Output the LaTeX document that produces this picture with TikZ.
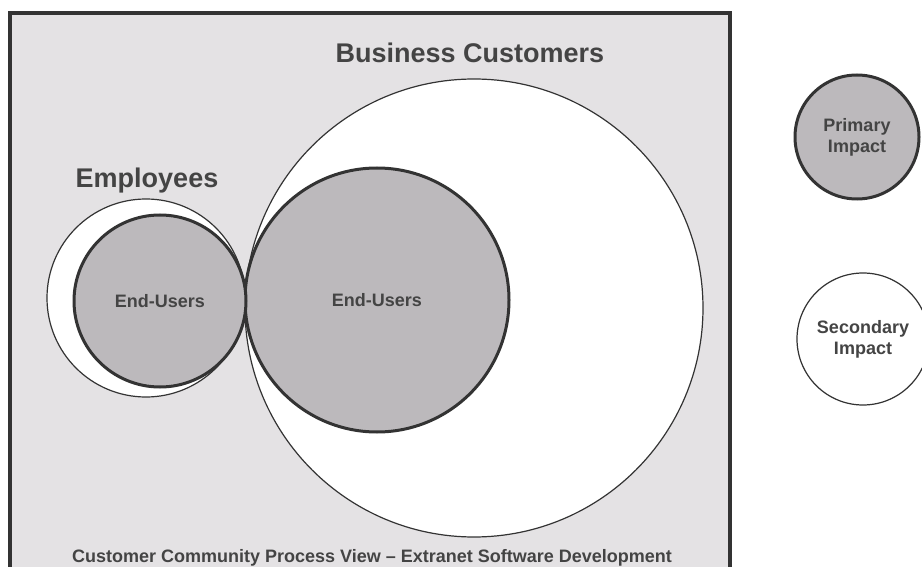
\documentclass[tikz,border=0pt]{standalone}
\usepackage{fontspec}
\setmainfont{Liberation Sans}
\definecolor{framefill}{HTML}{E4E2E4}
\definecolor{grayfill}{HTML}{BCB9BC}
\definecolor{inkline}{HTML}{333333}
\definecolor{inktext}{HTML}{444444}
\begin{document}
\begin{tikzpicture}[x=1pt,y=-1pt,
  thinring/.style={circle,draw=inkline,line width=1.2pt,fill=white,inner sep=0pt},
  thickring/.style={circle,draw=inkline,line width=3pt,fill=grayfill,inner sep=0pt},
  heading/.style={font=\fontsize{27}{30}\selectfont\bfseries,text=inktext,inner sep=0pt},
  smalltext/.style={font=\fontsize{18}{21}\selectfont\bfseries,text=inktext,align=center,inner sep=0pt}]
\useasboundingbox (0,0) rectangle (922,567);
\clip (0,0) rectangle (922,567);
\fill[white] (0,0) rectangle (922,567);
% frame
\draw[draw=inkline,line width=3.5pt,fill=framefill] (10,13) rectangle (730,600);
% business customers
\node[thinring,minimum size=458pt] (bc) at (474,308) {};
\node[thickring,minimum size=264pt,smalltext] (eu2) at (377,300) {End-Users};
% employees
\node[thinring,minimum size=198pt] (emp) at (146,298) {};
\node[thickring,minimum size=172pt,smalltext] (eu1) at (160,301) {End-Users};
% labels
\node[heading] (bclabel) at (470,53) {Business Customers};
\node[heading] (emplabel) at (147,181) {Employees};
\node[smalltext,anchor=base] (caption) at (372,562) {Customer Community Process View – Extranet Software Development};
% legend
\node[thickring,minimum size=124pt,smalltext] (primary) at (857,137) {Primary\\Impact};
\node[thinring,minimum size=132pt,smalltext] (secondary) at (863,339) {Secondary\\Impact};
\end{tikzpicture}
\end{document}
